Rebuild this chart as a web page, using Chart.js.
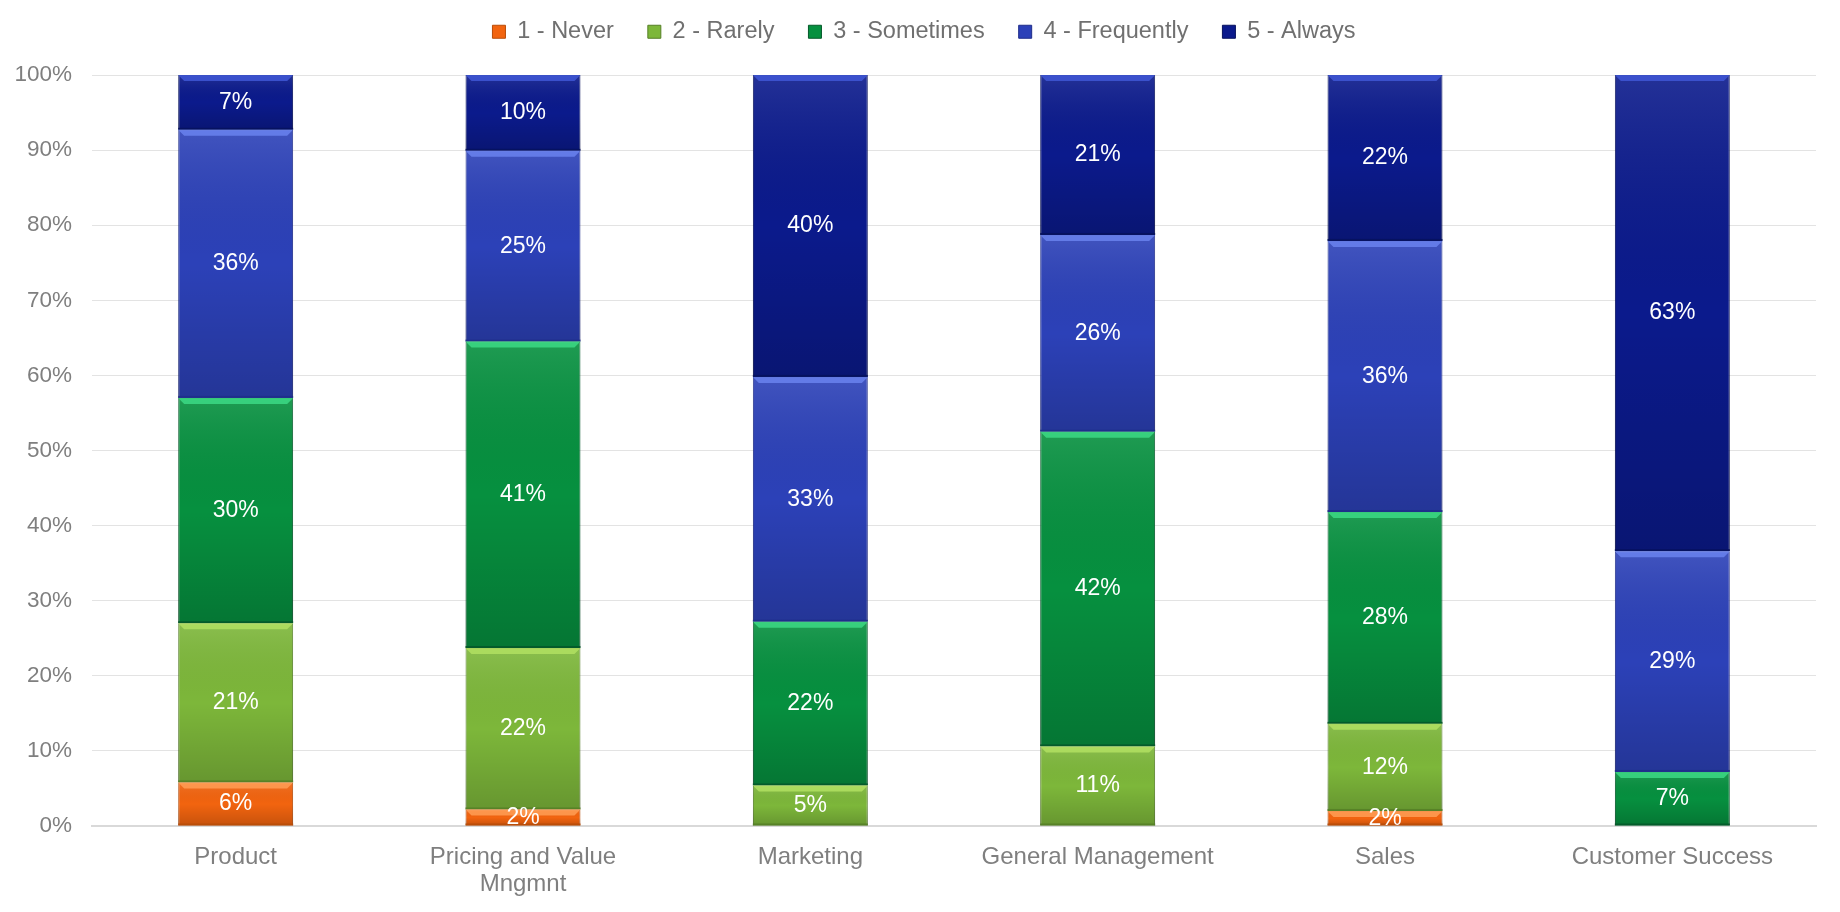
<!DOCTYPE html>
<html>
<head>
<meta charset="utf-8">
<script src="https://cdn.jsdelivr.net/npm/chart.js@4"></script>
<style>
  html, body { margin: 0; padding: 0; background: #fff; }
  #wrap { width: 1840px; height: 912px; }
</style>
</head>
<body>
<div id="wrap"><canvas id="chart" width="1840" height="912"></canvas></div>
<script>
// categories (teams)
const teams = ['Product', ['Pricing and Value', 'Mngmnt'], 'Marketing', 'General Management', 'Sales', 'Customer Success'];

// answer shares per team, in %
const never      = [5.8, 2.2, 0,    0,    2.0, 0];
const rarely     = [21.2, 21.5, 5.4, 10.6, 11.6, 0];
const sometimes  = [30.0, 40.8, 21.8, 41.9, 28.2, 7.2];
const frequently = [35.7, 25.4, 32.6, 26.2, 36.1, 29.4];
const always     = [7.3, 10.1, 40.2, 21.3, 22.1, 63.4];

const seriesNames = ['1 - Never', '2 - Rarely', '3 - Sometimes', '4 - Frequently', '5 - Always'];
const yTicks = [0, 10, 20, 30, 40, 50, 60, 70, 80, 90, 100];

// fill, bevel highlight, dark edge
const palette = [
  ['#f2640f', '#ff9d55', '#b84c08'],
  ['#7db73a', '#b2e062', '#557f27'],
  ['#06903f', '#3cd985', '#04592a'],
  ['#2c41b8', '#6a82ee', '#1f2d8a'],
  ['#0b1a8c', '#4057d6', '#07125e']
];

const FONT = '"Liberation Sans", Arial, sans-serif';

// legend box: fixed height, text pulled up and a bit to the right
const legendFix = {
  id: 'legendFix',
  beforeLayout(chart) {
    const leg = chart.legend;
    if (!leg || leg._fixed) return;
    leg._fixed = true;
    const fit = leg.fit, draw = leg.draw;
    leg.fit = function () { fit.call(this); this.height = 75; };
    leg.draw = function () {
      const t = this.top, l = this.left, r = this.right;
      this.top = t - 14;
      this.left = l + 16;
      this.right = r + 16;
      draw.apply(this, arguments);
      this.top = t;
      this.left = l;
      this.right = r;
    };
  }
};

// bevel + shading on each bar, drawn on the library's bar elements
const shadePlugin = {
  id: 'shade',
  afterDatasetDraw(chart, args) {
    const c = chart.ctx;
    const meta = args.meta;
    const cols = palette[args.index];
    meta.data.forEach((el, i) => {
      const v = chart.data.datasets[args.index].data[i];
      if (!v) return;
      const { x, y, base, width } = el.getProps(['x', 'y', 'base', 'width'], true);
      const l = x - width / 2, r = x + width / 2;
      const h = base - y;
      c.save();
      const g = c.createLinearGradient(0, y, 0, base);
      g.addColorStop(0, 'rgba(255,255,255,0.10)');
      g.addColorStop(0.5, 'rgba(0,0,0,0)');
      g.addColorStop(1, 'rgba(0,0,0,0.18)');
      c.fillStyle = g;
      c.fillRect(l, y, width, h);
      // top bevel
      const bv = Math.min(6, h / 2);
      c.fillStyle = cols[1];
      c.globalAlpha = 0.85;
      c.beginPath();
      c.moveTo(l, y);
      c.lineTo(r, y);
      c.lineTo(r - bv, y + bv);
      c.lineTo(l + bv, y + bv);
      c.closePath();
      c.fill();
      // bottom edge
      c.globalAlpha = 0.9;
      c.fillStyle = cols[2];
      c.fillRect(l, base - Math.min(2, h / 3), width, Math.min(2, h / 3));
      c.restore();
    });
  },
  afterDatasetsDraw(chart) {
    const c = chart.ctx;
    c.save();
    c.fillStyle = '#ffffff';
    c.font = '23px ' + FONT;
    c.textAlign = 'center';
    c.textBaseline = 'middle';
    chart.data.datasets.forEach((ds, di) => {
      const meta = chart.getDatasetMeta(di);
      meta.data.forEach((el, i) => {
        const v = ds.data[i];
        if (!v) return;
        const { x, y, base } = el.getProps(['x', 'y', 'base'], true);
        c.fillText(Math.round(v) + '%', x, (y + base) / 2);
      });
    });
    c.restore();
  }
};

const seriesData = [never, rarely, sometimes, frequently, always];

new Chart(document.getElementById('chart'), {
  type: 'bar',
  data: {
    labels: teams,
    datasets: seriesData.map((d, i) => ({
      label: seriesNames[i],
      data: d,
      backgroundColor: palette[i][0],
      borderColor: palette[i][2],
      borderWidth: 1,
      barPercentage: 0.4,
      categoryPercentage: 1.0
    }))
  },
  options: {
    responsive: false,
    animation: false,
    layout: { padding: { top: 0, right: 24, bottom: 0, left: 0 } },
    plugins: {
      tooltip: { enabled: false },
      legend: {
        position: 'top',
        labels: {
          color: '#707070',
          font: { family: FONT, size: 23.5 },
          boxWidth: 13,
          boxHeight: 13,
          padding: 34
        }
      }
    },
    scales: {
      x: {
        stacked: true,
        afterFit(scale) { scale.height = 86; },
        grid: { display: false, drawTicks: false },
        border: { color: '#d9d9d9', width: 2 },
        ticks: { color: '#7f7f7f', font: { family: FONT, size: 24, lineHeight: 1.12 }, padding: 18, maxRotation: 0 }
      },
      y: {
        stacked: true,
        min: 0,
        max: 100,
        afterBuildTicks(scale) { scale.ticks = yTicks.map(v => ({ value: v })); },
        afterFit(scale) { scale.width = 92; },
        grid: { color: '#e3e3e3', lineWidth: 1, drawTicks: false },
        border: { display: false },
        ticks: {
          color: '#7f7f7f',
          font: { family: FONT, size: 22.5 },
          padding: 20,
          callback: v => v + '%'
        }
      }
    }
  },
  plugins: [legendFix, shadePlugin]
});
</script>
</body>
</html>
